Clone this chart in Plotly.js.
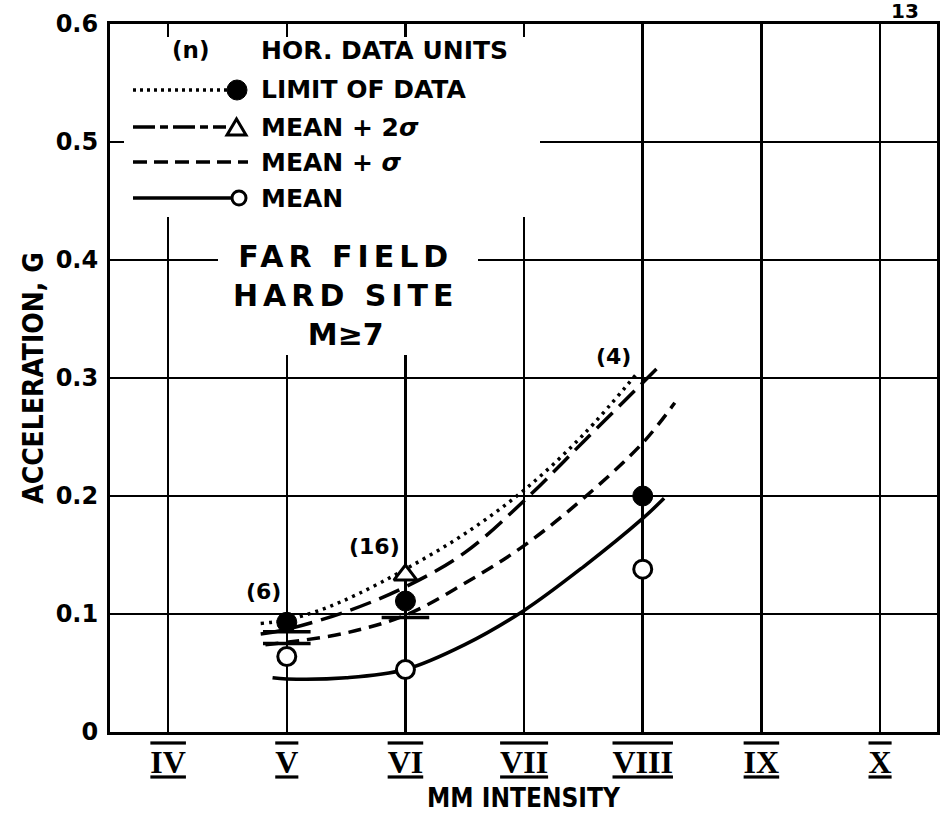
<!DOCTYPE html>
<html>
<head>
<meta charset="utf-8">
<script src="https://cdn.plot.ly/plotly-3.0.1.min.js"></script>
<style>html,body{margin:0;padding:0;background:#fff;}</style>
</head>
<body>
<div id="chart" style="width:946px;height:823px;"></div>
<script>
// ---- Data ----
const intensityVals = [4, 5, 6, 7, 8, 9, 10];
const intensityLabels = ["IV", "V", "VI", "VII", "VIII", "IX", "X"];
const accelTicks = [0, 0.1, 0.2, 0.3, 0.4, 0.5, 0.6];
const accelLabels = ["0", "0.1", "0.2", "0.3", "0.4", "0.5", "0.6"];

// Limit of data (dotted curve + filled circles)
const limitCurveX = [4.78, 5.0, 5.3, 5.6, 6.0, 6.5, 7.0, 7.5, 7.96];
const limitCurveY = [0.092, 0.095, 0.104, 0.117, 0.138, 0.168, 0.205, 0.252, 0.305];
const limitPtsX = [5, 6, 8];
const limitPtsY = [0.093, 0.111, 0.200];

// Mean + 2 sigma (long dash + triangle)
const plus2CurveX = [4.78, 5.0, 5.5, 6.0, 6.5, 7.0, 7.5, 8.0, 8.12];
const plus2CurveY = [0.083, 0.087, 0.102, 0.123, 0.152, 0.196, 0.246, 0.296, 0.308];
const plus2PtsX = [6];
const plus2PtsY = [0.133];

// Mean + sigma (medium dash)
const plus1CurveX = [4.82, 5.0, 5.5, 6.0, 6.5, 7.0, 7.5, 8.0, 8.27];
const plus1CurveY = [0.074, 0.076, 0.084, 0.099, 0.126, 0.158, 0.198, 0.245, 0.279];

// Mean (solid + open circles)
const meanCurveX = [4.88, 5.0, 5.5, 6.0, 6.5, 7.0, 7.5, 8.0, 8.18];
const meanCurveY = [0.046, 0.045, 0.046, 0.053, 0.074, 0.103, 0.140, 0.181, 0.198];
const meanPtsX = [5, 6, 8];
const meanPtsY = [0.064, 0.053, 0.138];

// Short horizontal bars (sigma marks)
const barX = [5, 5, 6];
const barY = [0.085, 0.075, 0.097];

// Number of horizontal data units (n)
const countX = [4.80, 5.74, 7.75];
const countY = [0.119, 0.157, 0.318];
const countText = ["(6)", "(16)", "(4)"];

// ---- Geometry helpers (plot area in pixels) ----
const L = 110, R = 937, T = 24, B = 732;
const px = x => (x - L) / (R - L);
const py = y => (B - y) / (B - T);

const BOLD = "DejaVu Sans";
const NARROW = "DejaVu Sans Condensed, Liberation Sans Narrow, Liberation Sans";
const traces = [
  {x: limitCurveX, y: limitCurveY, mode: "lines", line: {color: "#000", width: 3.5, dash: "3px,5px", shape: "spline"}, hoverinfo: "skip"},
  {x: plus2CurveX, y: plus2CurveY, mode: "lines", line: {color: "#000", width: 3.5, dash: "22px,9px", shape: "spline"}, hoverinfo: "skip"},
  {x: plus1CurveX, y: plus1CurveY, mode: "lines", line: {color: "#000", width: 3.5, dash: "13px,8px", shape: "spline"}, hoverinfo: "skip"},
  {x: meanCurveX, y: meanCurveY, mode: "lines", line: {color: "#000", width: 3.5, shape: "spline"}, hoverinfo: "skip"},
  {x: barX, y: barY, mode: "markers", marker: {symbol: "line-ew", size: 34, color: "#000", line: {color: "#000", width: 3.5}}},
  {x: limitPtsX, y: limitPtsY, mode: "markers", marker: {symbol: "circle", size: 20, color: "#000", line: {color: "#000", width: 1}}},
  {x: plus2PtsX, y: plus2PtsY, mode: "markers", marker: {symbol: "triangle-up", size: 20, color: "#fff", line: {color: "#000", width: 3}}},
  {x: meanPtsX, y: meanPtsY, mode: "markers", marker: {symbol: "circle", size: 18, color: "#fff", line: {color: "#000", width: 3}}}
];

const shapes = [
  // white areas where the printed grid is interrupted by the legend and label
  {type: "rect", xref: "paper", yref: "paper", x0: px(124), x1: px(540), y0: py(217), y1: py(37), fillcolor: "#fff", line: {width: 0}, layer: "above"},
  {type: "rect", xref: "paper", yref: "paper", x0: px(218), x1: px(478), y0: py(355), y1: py(217), fillcolor: "#fff", line: {width: 0}, layer: "above"},
  // legend keys
  {type: "line", xref: "paper", yref: "paper", x0: px(133), x1: px(228), y0: py(90), y1: py(90), line: {color: "#000", width: 3.5, dash: "3px,4px"}},
  {type: "circle", xref: "paper", yref: "paper", x0: px(227), x1: px(247), y0: py(100), y1: py(80), fillcolor: "#000", line: {color: "#000", width: 1}},
  {type: "line", xref: "paper", yref: "paper", x0: px(133), x1: px(226), y0: py(127), y1: py(127), line: {color: "#000", width: 3.5, dash: "22px,5px,8px,5px"}},
  {type: "path", xref: "paper", yref: "paper", path: "M" + px(227) + "," + py(135) + " L" + px(246) + "," + py(135) + " L" + px(236.5) + "," + py(119) + " Z", fillcolor: "#fff", line: {color: "#000", width: 3}},
  {type: "line", xref: "paper", yref: "paper", x0: px(133), x1: px(248), y0: py(162), y1: py(162), line: {color: "#000", width: 3.5, dash: "14px,7px"}},
  {type: "line", xref: "paper", yref: "paper", x0: px(133), x1: px(232), y0: py(198), y1: py(198), line: {color: "#000", width: 3.5}},
  {type: "circle", xref: "paper", yref: "paper", x0: px(232), x1: px(246), y0: py(205), y1: py(191), fillcolor: "#fff", line: {color: "#000", width: 3}}
];

const annotations = [];
countText.forEach((t, i) => annotations.push({
  x: countX[i], y: countY[i], xref: "x", yref: "y", text: t, showarrow: false,
  xanchor: "center", yanchor: "middle",
  font: {family: BOLD, size: 22, color: "#000", weight: "bold"}
}));
const legendRows = [
  [50, "HOR. DATA UNITS"], [90, "LIMIT OF DATA"], [127, "MEAN + 2<i>σ</i>"], [162, "MEAN + <i>σ</i>"], [198, "MEAN"]
];
legendRows.forEach(r => annotations.push({
  x: px(259), y: py(r[0]), xref: "paper", yref: "paper", xanchor: "left", yanchor: "middle",
  text: r[1], showarrow: false, font: {family: BOLD, size: 25, color: "#000", weight: "bold"}
}));
annotations.push({x: px(190), y: py(50), xref: "paper", yref: "paper", xanchor: "center", yanchor: "middle",
  text: "(n)", showarrow: false, font: {family: BOLD, size: 23, color: "#000", weight: "bold"}});
annotations.push({x: px(346), y: py(295), xref: "paper", yref: "paper", xanchor: "center", yanchor: "middle",
  text: '<span style="letter-spacing:5px">FAR FIELD</span><br><span style="letter-spacing:5px">HARD SITE</span><br>M≥7',
  showarrow: false, font: {family: BOLD, size: 30, color: "#000", weight: "bold"}});
annotations.push({x: px(905), y: py(11), xref: "paper", yref: "paper", xanchor: "center", yanchor: "middle",
  text: "13", showarrow: false, font: {family: BOLD, size: 20, color: "#000", weight: "bold"}});

const layout = {
  width: 946, height: 823,
  margin: {l: L, r: 946 - R, t: T, b: 823 - B},
  paper_bgcolor: "#fff", plot_bgcolor: "#fff",
  showlegend: false,
  xaxis: {
    range: [3.51, 10.48], tickmode: "array", tickvals: intensityVals,
    ticktext: intensityLabels.map(s => '<span style="text-decoration:underline overline">' + s + '</span>'),
    showgrid: true, gridcolor: "#000", gridwidth: 2.5, zeroline: false,
    showline: true, linecolor: "#000", linewidth: 3, mirror: "ticks",
    ticks: "inside", ticklen: 12, tickwidth: 2.5, tickcolor: "#000",
    ticklabelstandoff: 0,
    tickfont: {family: "Liberation Serif", size: 32, color: "#000", weight: "bold"},
    title: {text: "MM INTENSITY", font: {family: NARROW, size: 26, color: "#000", weight: "bold"}, standoff: 10}
  },
  yaxis: {
    range: [0, 0.6], tickmode: "array", tickvals: accelTicks, ticktext: accelLabels,
    showgrid: true, gridcolor: "#000", gridwidth: 2.5, zeroline: false,
    showline: true, linecolor: "#000", linewidth: 3, mirror: "ticks",
    ticks: "inside", ticklen: 12, tickwidth: 2.5, tickcolor: "#000",
    ticklabelstandoff: 4,
    tickfont: {family: BOLD, size: 24, color: "#000", weight: "bold"},
    title: {text: "ACCELERATION, G", font: {family: NARROW, size: 28, color: "#000", weight: "bold"}, standoff: 4}
  },
  shapes: shapes,
  annotations: annotations
};

Plotly.newPlot("chart", traces, layout, {staticPlot: true, displayModeBar: false});
</script>
</body>
</html>
